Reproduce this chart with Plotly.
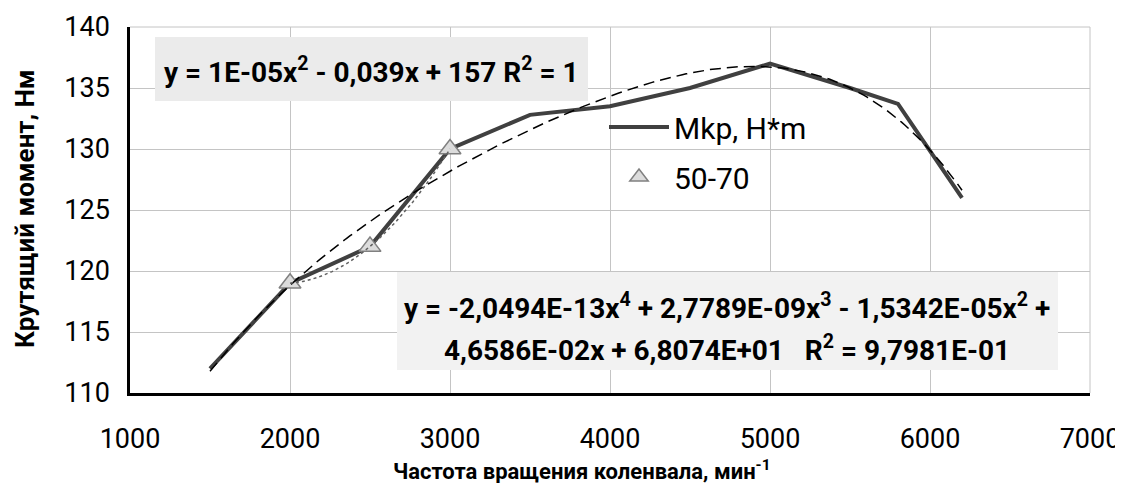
import numpy as np
import plotly.graph_objects as go

# ---- data ----
rpm = [1500, 2000, 2500, 3000, 3500, 4000, 4500, 5000, 5500, 5800, 6200]
torque = [112, 119, 122, 130, 132.8, 133.5, 135, 137, 135, 133.7, 126]
rpm_5070 = [2000, 2500, 3000]
torque_5070 = [119, 122, 130]

# trendline coefficients printed on the chart (highest power first)
poly4_coef = [-2.0494e-13, 2.7789e-09, -1.5342e-05, 4.6586e-02, 6.8074e+01]
poly2_coef = [1e-05, -0.039, 157]

eq1_text = "y = 1E-05x<sup>2</sup> - 0,039x + 157 R<sup>2</sup> = 1"
eq2_line1 = "y = -2,0494E-13x<sup>4</sup> + 2,7789E-09x<sup>3</sup> - 1,5342E-05x<sup>2</sup> +"
eq2_line2 = "4,6586E-02x + 6,8074E+01   R<sup>2</sup> = 9,7981E-01"
x_title = "Частота вращения коленвала, мин<sup>-1</sup>"
y_title = "Крутящий момент, Нм"

x4 = np.linspace(min(rpm), max(rpm), 200)
y4 = np.polyval(poly4_coef, x4)
x2 = np.linspace(min(rpm_5070), max(rpm_5070), 100)
y2 = np.polyval(poly2_coef, x2)

# ---- layout geometry (page pixels); page body has an 8px margin ----
OFF = 8
W, H = 1123 - OFF, 491 - 2 * OFF
L, R, T, B = 130, 1090, 27, 393
GRID = "#c4c4c4"


def px(x):
    return (x - L) / (R - L)


def py(y):
    return (B - y) / (B - T)


FONT = "Roboto"

fig = go.Figure()
fig.add_trace(go.Scatter(x=rpm, y=torque, mode="lines", name="Mkp, H*m",
                         line=dict(color="#404040", width=4), legendgroup="a"))
fig.add_trace(go.Scatter(x=rpm_5070, y=torque_5070, mode="markers", name="50-70",
                         marker=dict(symbol="triangle-up", size=19, color="#dcdcdc",
                                     line=dict(color="#808080", width=1.5)),
                         legendgroup="b"))
fig.add_trace(go.Scatter(x=x4, y=y4, mode="lines", showlegend=False,
                         line=dict(color="#000000", width=1.5, dash="11px,6px")))
fig.add_trace(go.Scatter(x=x2, y=y2, mode="lines", showlegend=False,
                         line=dict(color="#606060", width=1.5, dash="dot")))

bold28 = dict(size=28, family=FONT, color="black", weight="bold")

fig.update_layout(
    width=W, height=H,
    margin=dict(l=L - OFF, r=W + OFF - R, t=T - OFF, b=H + OFF - B, autoexpand=False),
    paper_bgcolor="white", plot_bgcolor="white",
    font=dict(family=FONT, color="#000000"),
    showlegend=True,
    legend=dict(x=px(604), y=py(101), xanchor="left", yanchor="top",
                bgcolor="rgba(0,0,0,0)", font=dict(size=30, family=FONT),
                tracegroupgap=8, itemwidth=60),
    shapes=[
        # top and right frame lines in grid colour
        dict(type="line", xref="paper", yref="paper", x0=0, x1=1, y0=1, y1=1,
             line=dict(color=GRID, width=1), layer="below"),
        dict(type="line", xref="paper", yref="paper", x0=1, x1=1, y0=0, y1=1,
             line=dict(color=GRID, width=1), layer="below"),
        # legend background (white, drawn between grid and data)
        dict(type="rect", xref="paper", yref="paper", x0=px(604), x1=px(822),
             y0=py(199), y1=py(112), fillcolor="white", line=dict(width=0), layer="between"),
        dict(type="rect", xref="paper", yref="paper", x0=px(155), x1=px(588),
             y0=py(101), y1=py(37), fillcolor="#ebebeb", line=dict(width=0), layer="above"),
        dict(type="rect", xref="paper", yref="paper", x0=px(397), x1=px(1058),
             y0=py(370), y1=py(272), fillcolor="#f2f2f2", line=dict(width=0), layer="above"),
    ],
    annotations=[
        dict(xref="paper", yref="paper", x=px(371), y=py(70), text=eq1_text,
             showarrow=False, font=bold28, xanchor="center", yanchor="middle"),
        dict(xref="paper", yref="paper", x=px(727), y=py(306), text=eq2_line1,
             showarrow=False, font=bold28, xanchor="center", yanchor="middle"),
        dict(xref="paper", yref="paper", x=px(727), y=py(348), text=eq2_line2,
             showarrow=False, font=bold28, xanchor="center", yanchor="middle"),
        dict(xref="paper", yref="paper", x=px(582), y=py(470), text=x_title,
             showarrow=False, font=dict(size=22, family=FONT, color="black", weight="bold"),
             xanchor="center", yanchor="middle"),
        dict(xref="paper", yref="paper", x=px(25), y=py(209), text=y_title, textangle=-90,
             showarrow=False, font=dict(size=26, family=FONT, color="black", weight="bold"),
             xanchor="center", yanchor="middle"),
    ],
)

fig.update_xaxes(range=[1000, 7000], dtick=1000, tick0=1000,
                 showgrid=True, gridcolor=GRID, gridwidth=1,
                 showline=True, linecolor="black", linewidth=2.5,
                 ticks="", tickfont=dict(size=27, family=FONT),
                 ticklabelstandoff=20, ticklabeloverflow="allow", zeroline=False)
fig.update_yaxes(range=[110, 140], dtick=5, tick0=110,
                 showgrid=True, gridcolor=GRID, gridwidth=1,
                 showline=True, linecolor="black", linewidth=2.5,
                 ticks="", tickfont=dict(size=27, family=FONT),
                 ticklabelstandoff=12, zeroline=False)

fig.write_html("out.html")
